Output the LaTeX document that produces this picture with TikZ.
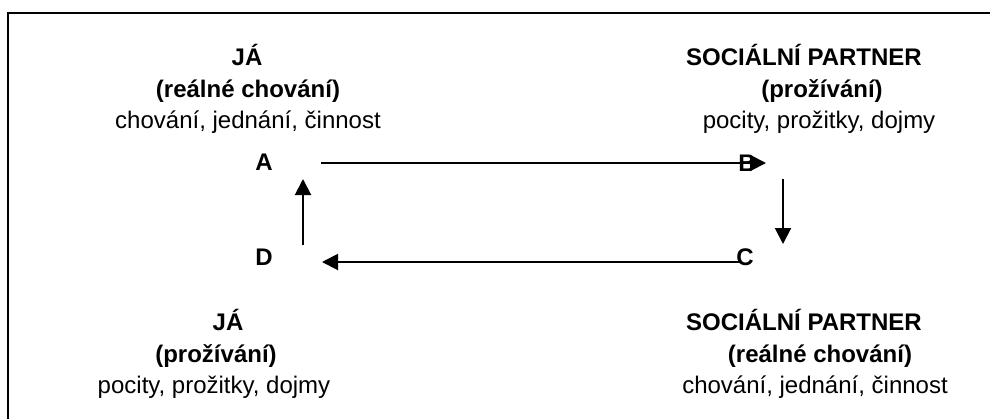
\documentclass[tikz,border=0pt]{standalone}
\usepackage{fontspec}
\setmainfont{Liberation Sans}
\usetikzlibrary{arrows.meta}

\begin{document}
\begin{tikzpicture}[x=0.5pt, y=-0.5pt,
  lbl/.style={anchor=base, inner sep=0pt, font=\fontsize{12pt}{14pt}\selectfont},
  head/.style={lbl, font=\fontsize{12pt}{14pt}\selectfont\bfseries},
  corner/.style={head},
  flow/.style={line width=1pt, -{Triangle[length=8pt, width=8pt]}}]
  \useasboundingbox (0,0) rectangle (990,419);

  % open frame: left and top edges
  \coordinate (frameBL) at (8,419);
  \coordinate (frameTL) at (8,13);
  \coordinate (frameTR) at (990,13);
  \draw[line width=1.4pt] (frameBL) -- (frameTL) -- (frameTR);

  % top left: self, real behaviour
  \node[head] (t1a) at (247,65) {JÁ};
  \node[head] (t1b) at (248,97) {(reálné chování)};
  \node[lbl]  (t1c) at (248,128) {chování, jednání, činnost};

  % top right: partner, experience
  \node[head] (t2a) at (804,65) {SOCIÁLNÍ PARTNER};
  \node[head] (t2b) at (822,97) {(prožívání)};
  \node[lbl]  (t2c) at (819,128) {pocity, prožitky, dojmy};

  % bottom left: self, experience
  \node[head] (t3a) at (228,330) {JÁ};
  \node[head] (t3b) at (216,362) {(prožívání)};
  \node[lbl]  (t3c) at (214,393) {pocity, prožitky, dojmy};

  % bottom right: partner, real behaviour
  \node[head] (t4a) at (804,330) {SOCIÁLNÍ PARTNER};
  \node[head] (t4b) at (820,362) {(reálné chování)};
  \node[lbl]  (t4c) at (815,393) {chování, jednání, činnost};

  % cycle corners
  \node[corner] (A) at (264,170) {A};
  \node[corner] (B) at (747,171) {B};
  \node[corner] (C) at (745,265) {C};
  \node[corner] (D) at (264,265) {D};

  % connector end points
  \coordinate (ab1) at (321,163);
  \coordinate (ab2) at (766,163);
  \coordinate (bc1) at (783,179);
  \coordinate (bc2) at (783,244);
  \coordinate (cd1) at (741,262);
  \coordinate (cd2) at (322,262);
  \coordinate (da1) at (303,245);
  \coordinate (da2) at (303,179);

  \draw[flow] (ab1) -- (ab2);
  \draw[flow] (bc1) -- (bc2);
  \draw[flow] (cd1) -- (cd2);
  \draw[flow] (da1) -- (da2);
\end{tikzpicture}
\end{document}
